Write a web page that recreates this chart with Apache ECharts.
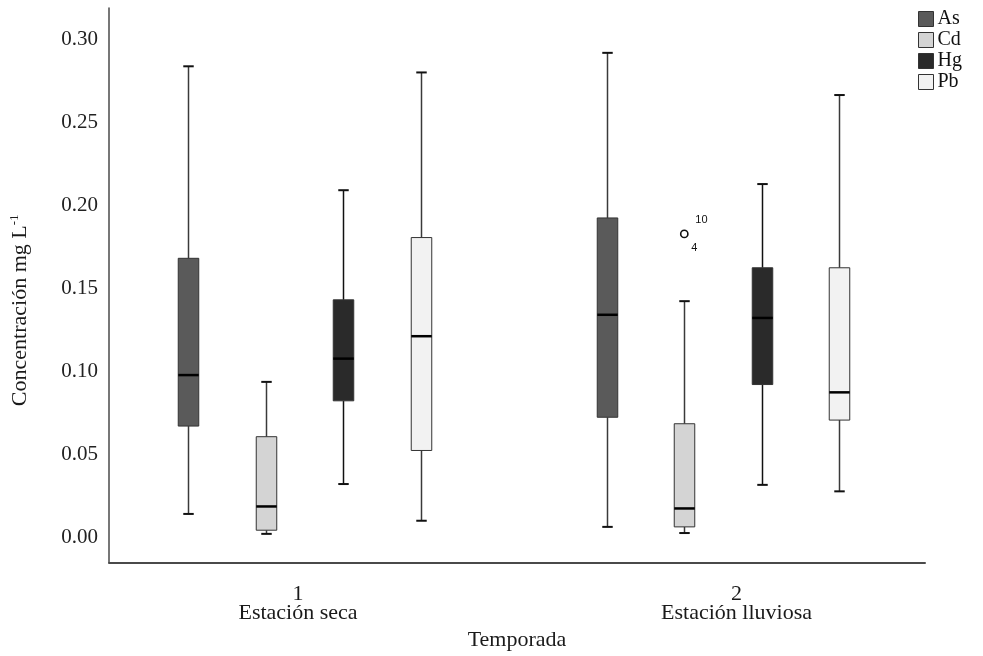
<!DOCTYPE html>
<html><head><meta charset="utf-8">
<script src="https://cdn.jsdelivr.net/npm/echarts@6/dist/echarts.min.js"></script>
<style>html,body{margin:0;padding:0;background:#fff}#c{width:983px;height:656px}</style>
</head><body><div id="c"></div>
<script>
// ---- data ----
const groupNumbers = ['1', '2'];
const groupNames = ['Estación seca', 'Estación lluviosa'];
const metals = ['As', 'Cd', 'Hg', 'Pb'];
// [min, Q1, median, Q3, max] for each season
const As = [[0.0142, 0.0671, 0.0978, 0.1681, 0.2837], [0.0064, 0.0724, 0.1341, 0.1924, 0.2918]];
const Cd = [[0.0022, 0.0044, 0.0187, 0.0607, 0.0937], [0.0027, 0.0064, 0.0175, 0.0685, 0.1423]];
const Hg = [[0.0322, 0.0823, 0.1077, 0.1431, 0.2091], [0.0317, 0.0921, 0.1322, 0.1624, 0.2128]];
const Pb = [[0.0101, 0.0524, 0.1212, 0.1806, 0.2800], [0.0278, 0.0707, 0.0874, 0.1624, 0.2664]];
const outlierSeason = [2];
const outlierMetal = ['Cd'];
const outlierValue = [0.1828];
const outlierCases = [['10', '4']];
const yTicks = [0, 0.05, 0.10, 0.15, 0.20, 0.25, 0.30];

// ---- style ----
const fills = ['#5a5a5a', '#d4d4d4', '#2a2a2a', '#f2f2f2'];
const whiskerColors = ['#3a3a3a', '#3a3a3a', '#111', '#3a3a3a'];
const SPACING = 0.185, BOX_W = 0.049, CAP_W = 0.025;
const SERIF = '"Liberation Serif", "DejaVu Serif", serif';
const valuesByMetal = [As, Cd, Hg, Pb];

function makeRender(m) {
  return function (params, api) {
    const g = api.value(0);
    const band = api.size([1, 0])[0];
    const dx = (m - 1.5) * SPACING * band;
    const hw = BOX_W * band / 2, cw = CAP_W * band / 2;
    const P = k => api.coord([g, api.value(k)]);
    const pMin = P(1), pQ1 = P(2), pMed = P(3), pQ3 = P(4), pMax = P(5);
    const x = Math.round(pMin[0] + dx) + 0.5;
    const wc = whiskerColors[m];
    return {
      type: 'group',
      children: [
        { type: 'line', shape: { x1: x, y1: pMax[1], x2: x, y2: pQ3[1] }, style: { stroke: wc, lineWidth: 1.5 } },
        { type: 'line', shape: { x1: x, y1: pQ1[1], x2: x, y2: pMin[1] }, style: { stroke: wc, lineWidth: 1.5 } },
        { type: 'line', shape: { x1: x - cw, y1: pMax[1], x2: x + cw, y2: pMax[1] }, style: { stroke: '#111', lineWidth: 2 } },
        { type: 'line', shape: { x1: x - cw, y1: pMin[1], x2: x + cw, y2: pMin[1] }, style: { stroke: '#111', lineWidth: 2 } },
        { type: 'rect', shape: { x: x - hw, y: pQ3[1], width: 2 * hw, height: pQ1[1] - pQ3[1] }, style: { fill: fills[m], stroke: '#333', lineWidth: 1 } },
        { type: 'line', shape: { x1: x - hw, y1: pMed[1], x2: x + hw, y2: pMed[1] }, style: { stroke: '#000', lineWidth: 2.5 } }
      ]
    };
  };
}

const boxSeries = metals.map((name, m) => ({
  name: name,
  type: 'custom',
  renderItem: makeRender(m),
  itemStyle: { color: fills[m], borderColor: '#333', borderWidth: 1 },
  encode: { x: 0, y: [1, 2, 3, 4, 5] },
  data: valuesByMetal[m].map((v, i) => [i + 1].concat(v)),
  z: 2
}));

const outlierSeries = {
  name: 'outliers',
  type: 'custom',
  renderItem: function (params, api) {
    const g = api.value(0), m = api.value(1);
    const band = api.size([1, 0])[0];
    const p = api.coord([g, api.value(2)]);
    const x = p[0] + (m - 1.5) * SPACING * band, y = p[1];
    const cases = outlierCases[params.dataIndex];
    return {
      type: 'group',
      children: [
        { type: 'circle', shape: { cx: x, cy: y, r: 3.6 }, style: { fill: '#fff', stroke: '#111', lineWidth: 1.6 } },
        { type: 'text', style: { x: x + 11, y: y - 14, text: cases[0], font: '11px "Liberation Sans", Arial, sans-serif', fill: '#111', textAlign: 'left', textVerticalAlign: 'middle' } },
        { type: 'text', style: { x: x + 7, y: y + 14, text: cases[1], font: '11px "Liberation Sans", Arial, sans-serif', fill: '#111', textAlign: 'left', textVerticalAlign: 'middle' } }
      ]
    };
  },
  encode: { x: 0, y: 2 },
  data: outlierValue.map((v, i) => [outlierSeason[i], metals.indexOf(outlierMetal[i]), v]),
  z: 3
};

const chart = echarts.init(document.getElementById('c'), null, { renderer: 'canvas' });
chart.setOption({
  animation: false,
  backgroundColor: '#fff',
  grid: { left: 106, right: 58, top: 8, bottom: 88, containLabel: false },
  legend: {
    orient: 'vertical', left: 918, top: 9, padding: 0, itemGap: 1,
    itemWidth: 15, itemHeight: 15, icon: 'rect',
    textStyle: { fontFamily: SERIF, fontSize: 20, color: '#111', padding: [0, 0, 0, -1] },
    data: metals.map((n, m) => ({ name: n, itemStyle: { color: fills[m], borderColor: '#333', borderWidth: 1 } }))
  },
  xAxis: {
    type: 'value', min: 0.5328, max: 2.4827,
    name: 'Temporada', nameLocation: 'middle', nameGap: 51,
    nameTextStyle: { fontFamily: SERIF, fontSize: 22, color: '#1a1a1a' },
    axisLine: { show: true, onZero: false, lineStyle: { color: '#4a4a4a', width: 2 } },
    axisTick: { show: false },
    splitLine: { show: false },
    axisLabel: {
      customValues: [1, 2],
      margin: 22,
      formatter: function (v) {
        const i = Math.round(v) - 1;
        return '{p' + i + '|' + groupNumbers[i] + '}\n{p' + i + '|' + groupNames[i] + '}';
      },
      rich: {
        p0: { fontFamily: SERIF, fontSize: 22, color: '#1a1a1a', lineHeight: 19, padding: [0, 13, 0, 0] },
        p1: { fontFamily: SERIF, fontSize: 22, color: '#1a1a1a', lineHeight: 19, padding: [0, 0, 0, 27] }
      }
    }
  },
  yAxis: {
    type: 'value', min: -0.0151, max: 0.3188,
    name: '{a|Concentración mg L}{s|-1}', nameLocation: 'middle', nameGap: 76,
    nameTextStyle: {
      padding: [0, 50, 0, 0],
      rich: {
        a: { fontFamily: SERIF, fontSize: 22, color: '#1a1a1a' },
        s: { fontFamily: SERIF, fontSize: 13, color: '#1a1a1a', padding: [0, 0, 12, 0] }
      }
    },
    axisLine: { show: true, onZero: false, lineStyle: { color: '#4a4a4a', width: 1.5 } },
    axisTick: { show: false },
    splitLine: { show: false },
    axisLabel: {
      customValues: yTicks,
      margin: 11,
      fontFamily: SERIF, fontSize: 21, color: '#222',
      formatter: v => v.toFixed(2)
    }
  },
  series: boxSeries.concat([outlierSeries])
});
</script>
</body></html>
